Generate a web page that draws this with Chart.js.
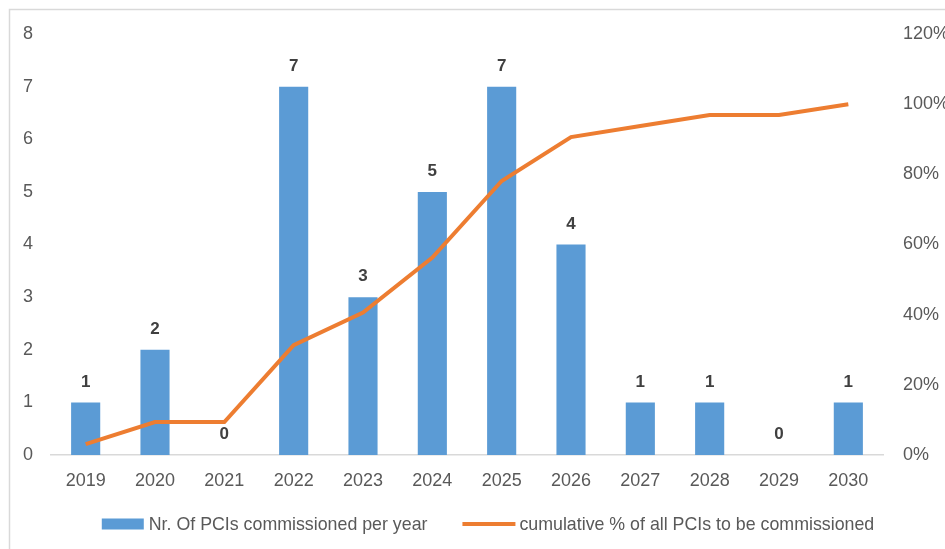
<!DOCTYPE html>
<html>
<head>
<meta charset="utf-8">
<script src="https://cdn.jsdelivr.net/npm/chart.js@4/dist/chart.umd.min.js"></script>
<style>
  html, body { margin: 0; padding: 0; background: #fff; }
  #wrap { width: 945px; height: 549px; position: relative; }
</style>
</head>
<body>
<div id="wrap"><canvas id="c" width="945" height="549"></canvas></div>
<script>
const years = ['2019','2020','2021','2022','2023','2024','2025','2026','2027','2028','2029','2030'];
const pcisPerYear = [1, 2, 0, 7, 3, 5, 7, 4, 1, 1, 0, 1];
const cumulativePct = [3.1, 9.4, 9.4, 31.3, 40.6, 56.3, 78.1, 90.6, 93.8, 96.9, 96.9, 100];
const barLabel = 'Nr. Of PCIs commissioned per year';
const lineLabel = 'cumulative % of all PCIs to be commissioned';

const FONT = '"Liberation Sans", Arial, sans-serif';
const TEXT = '#595959';
const BAR_COLOR = '#5B9BD5';
const LINE_COLOR = '#ED7D31';

const framePlugin = {
  id: 'frame',
  beforeDraw(chart) {
    const ctx = chart.ctx;
    ctx.save();
    ctx.fillStyle = '#fff';
    ctx.fillRect(0, 0, chart.width, chart.height);
    ctx.strokeStyle = '#d9d9d9';
    ctx.lineWidth = 1.5;
    ctx.beginPath();
    ctx.moveTo(9.5, chart.height);
    ctx.lineTo(9.5, 9.5);
    ctx.lineTo(chart.width, 9.5);
    ctx.stroke();
    ctx.restore();
  }
};

const barLabelsPlugin = {
  id: 'barLabels',
  afterDatasetsDraw(chart) {
    const ctx = chart.ctx;
    const meta = chart.getDatasetMeta(0);
    ctx.save();
    ctx.font = 'bold 17px ' + FONT;
    ctx.fillStyle = '#404040';
    ctx.textAlign = 'center';
    ctx.textBaseline = 'bottom';
    meta.data.forEach((el, i) => {
      ctx.fillText(String(pcisPerYear[i]), el.x, el.y - 12);
    });
    ctx.restore();
  }
};

// Legend drawn below the x axis, items laid out like the original
const legendPlugin = {
  id: 'customLegend',
  afterDraw(chart) {
    const ctx = chart.ctx;
    ctx.save();
    ctx.font = '17.8px ' + FONT;
    ctx.fillStyle = TEXT;
    ctx.textBaseline = 'middle';
    ctx.textAlign = 'left';
    const y = chart.chartArea.bottom + 69;
    const boxW = 42, gapText = 5, gapItem = 35, lineW = 53, gapLineText = 4;
    const w1 = ctx.measureText(barLabel).width;
    const w2 = ctx.measureText(lineLabel).width;
    const total = boxW + gapText + w1 + gapItem + lineW + gapLineText + w2;
    let x = 488 - total / 2;
    ctx.fillStyle = BAR_COLOR;
    ctx.fillRect(x, y - 5.5, boxW, 11);
    x += boxW + gapText;
    ctx.fillStyle = TEXT;
    ctx.fillText(barLabel, x, y + 1);
    x += w1 + gapItem;
    ctx.strokeStyle = LINE_COLOR;
    ctx.lineWidth = 4;
    ctx.beginPath();
    ctx.moveTo(x, y);
    ctx.lineTo(x + lineW, y);
    ctx.stroke();
    x += lineW + gapLineText;
    ctx.fillText(lineLabel, x, y + 1);
    ctx.restore();
  }
};

new Chart(document.getElementById('c'), {
  data: {
    labels: years,
    datasets: [
      {
        type: 'bar',
        label: barLabel,
        data: pcisPerYear,
        yAxisID: 'y',
        backgroundColor: BAR_COLOR,
        borderWidth: 0,
        barPercentage: 0.42,
        categoryPercentage: 1,
        order: 1
      },
      {
        type: 'line',
        label: lineLabel,
        data: cumulativePct,
        yAxisID: 'y1',
        borderColor: LINE_COLOR,
        backgroundColor: LINE_COLOR,
        borderWidth: 4,
        pointRadius: 0,
        tension: 0,
        order: 0
      }
    ]
  },
  options: {
    responsive: false,
    animation: false,
    devicePixelRatio: 1,
    layout: { padding: { top: 34, right: 0, bottom: 0, left: 0 } },
    plugins: {
      legend: { display: false },
      tooltip: { enabled: false }
    },
    scales: {
      x: {
        grid: { display: false, drawTicks: false },
        border: { display: true, color: '#d9d9d9', width: 1.5 },
        ticks: { font: { family: FONT, size: 18 }, color: TEXT, padding: 15, maxRotation: 0 },
        afterFit(s) { s.height = 94; }
      },
      y: {
        position: 'left',
        min: 0, max: 8,
        grid: { display: false, drawTicks: false },
        border: { display: false },
        ticks: { stepSize: 1, font: { family: FONT, size: 18 }, color: TEXT, padding: 18 },
        afterFit(s) { s.width = 51; }
      },
      y1: {
        position: 'right',
        min: 0, max: 120,
        grid: { display: false, drawTicks: false },
        border: { display: false },
        ticks: { stepSize: 20, font: { family: FONT, size: 18 }, color: TEXT, padding: 20,
                 callback: v => v + '%' },
        afterFit(s) { s.width = 62; }
      }
    }
  },
  plugins: [framePlugin, barLabelsPlugin, legendPlugin]
});
</script>
</body>
</html>
